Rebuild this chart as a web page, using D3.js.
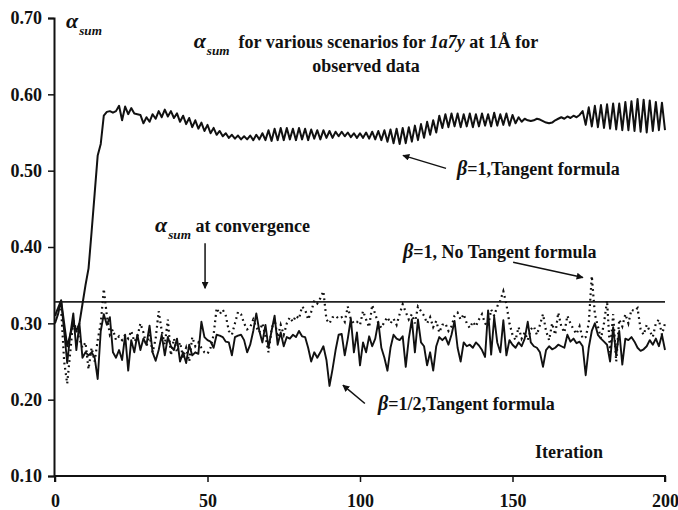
<!DOCTYPE html>
<html>
<head>
<meta charset="utf-8">
<script src="https://cdn.jsdelivr.net/npm/d3@7/dist/d3.min.js"></script>
<style>
  html, body { margin: 0; padding: 0; background: #fff; }
  svg { display: block; font-family: "Liberation Serif", "Times New Roman", serif; font-weight: bold; }
</style>
</head>
<body>
<div id="chart"></div>
<script>
// iteration axis
const xTicks = [0, 50, 100, 150, 200];
const yTicks = [0.10, 0.20, 0.30, 0.40, 0.50, 0.60, 0.70];

// alpha_sum at convergence
const convergence = 0.328;

// beta = 1, tangent formula (iterations 0..200)
const tangentBeta1 = [
  0.310, 0.320, 0.330, 0.300, 0.270, 0.285, 0.300, 0.290, 0.300,
  0.325, 0.350, 0.372, 0.420, 0.470, 0.520, 0.535, 0.572,
  0.577, 0.578, 0.576, 0.578,
  0.585, 0.566, 0.584, 0.574, 0.582, 0.575, 0.574,
  0.573, 0.562, 0.570, 0.564, 0.574,
  0.568, 0.578, 0.570, 0.580, 0.571, 0.578, 0.569, 0.575,
  0.564, 0.572, 0.561, 0.569, 0.557, 0.566, 0.555, 0.563, 0.552, 0.560, 0.549, 0.556, 0.547, 0.552, 0.545,
  0.549, 0.543, 0.547, 0.542, 0.546, 0.541, 0.545, 0.541, 0.546, 0.540, 0.547, 0.541, 0.549,
  0.540, 0.553, 0.539, 0.555, 0.540, 0.556, 0.540, 0.556, 0.541, 0.555, 0.540, 0.556,
  0.541, 0.555, 0.540, 0.554, 0.542, 0.553, 0.541, 0.553, 0.543, 0.552, 0.543, 0.551,
  0.545, 0.551, 0.545, 0.550, 0.544, 0.549, 0.543, 0.549, 0.543, 0.550, 0.542, 0.551, 0.541, 0.552, 0.540,
  0.553, 0.538, 0.554, 0.536, 0.555, 0.535, 0.556, 0.536, 0.557, 0.538, 0.559, 0.540, 0.561, 0.543, 0.564, 0.547, 0.566, 0.550,
  0.572, 0.556, 0.574, 0.557, 0.575, 0.558, 0.575, 0.557, 0.574, 0.558, 0.575, 0.557, 0.574,
  0.558, 0.575, 0.559, 0.574, 0.558, 0.576, 0.559, 0.574, 0.560, 0.575, 0.559, 0.573,
  0.562, 0.570, 0.564, 0.568, 0.566,
  0.565, 0.566, 0.568, 0.567, 0.565, 0.563, 0.562, 0.563, 0.566, 0.568,
  0.570, 0.568, 0.571, 0.569, 0.572, 0.570, 0.573,
  0.578, 0.560, 0.583, 0.558, 0.585, 0.557, 0.586, 0.556, 0.587, 0.555, 0.588, 0.554, 0.588, 0.553,
  0.590, 0.553, 0.591, 0.552, 0.594, 0.551, 0.593, 0.550, 0.592, 0.552, 0.590, 0.553, 0.589, 0.553
];

// beta = 1/2, tangent formula
const tangentBetaHalf = [
  0.300, 0.312, 0.330, 0.290, 0.248, 0.285, 0.313, 0.265, 0.300, 0.255,
  0.262, 0.258, 0.262, 0.255, 0.227, 0.290, 0.312, 0.298, 0.308, 0.262,
  0.255, 0.265, 0.252, 0.285, 0.238, 0.278, 0.262, 0.285, 0.265, 0.280,
  0.272, 0.297, 0.262, 0.251, 0.265, 0.285, 0.258, 0.282, 0.270, 0.265,
  0.280, 0.250, 0.262, 0.248, 0.272, 0.258, 0.262, 0.260, 0.302, 0.282,
  0.278, 0.276, 0.268, 0.285, 0.284, 0.282, 0.276, 0.275, 0.258, 0.282,
  0.284, 0.285, 0.278, 0.262, 0.272, 0.290, 0.313, 0.290, 0.275, 0.298,
  0.268, 0.290, 0.310, 0.272, 0.288, 0.270, 0.282, 0.280, 0.285, 0.282,
  0.290, 0.283, 0.282, 0.268, 0.250, 0.262, 0.255, 0.262, 0.270, 0.252,
  0.218, 0.240, 0.265, 0.285, 0.286, 0.258, 0.280, 0.306, 0.262, 0.288,
  0.245, 0.275, 0.262, 0.283, 0.270, 0.280, 0.302, 0.268, 0.255, 0.238,
  0.268, 0.285, 0.280, 0.278, 0.283, 0.243, 0.280, 0.305, 0.262, 0.305,
  0.275, 0.270, 0.245, 0.262, 0.238, 0.270, 0.282, 0.278, 0.282, 0.272,
  0.285, 0.303, 0.268, 0.250, 0.275, 0.270, 0.272, 0.268, 0.275, 0.271,
  0.265, 0.256, 0.317, 0.259, 0.308, 0.275, 0.262, 0.304, 0.258, 0.278,
  0.272, 0.268, 0.275, 0.270, 0.280, 0.302, 0.275, 0.270, 0.268, 0.262,
  0.243, 0.265, 0.270, 0.266, 0.268, 0.272, 0.270, 0.268, 0.285, 0.276,
  0.280, 0.274, 0.276, 0.270, 0.232, 0.268, 0.290, 0.300, 0.285, 0.280,
  0.276, 0.272, 0.250, 0.295, 0.258, 0.290, 0.246, 0.280, 0.278, 0.282,
  0.276, 0.268, 0.264, 0.266, 0.270, 0.278, 0.272, 0.280, 0.270, 0.285, 0.265
];

// beta = 1, no tangent formula
const noTangentBeta1 = [
  0.310, 0.318, 0.320, 0.250, 0.221, 0.262, 0.305, 0.290, 0.280, 0.268,
  0.275, 0.240, 0.268, 0.250, 0.278, 0.300, 0.345, 0.310, 0.285, 0.292,
  0.278, 0.283, 0.278, 0.285, 0.280, 0.290, 0.276, 0.282, 0.300, 0.288,
  0.270, 0.285, 0.262, 0.280, 0.316, 0.290, 0.272, 0.305, 0.258, 0.280,
  0.262, 0.275, 0.255, 0.268, 0.250, 0.282, 0.270, 0.275, 0.268, 0.262,
  0.260, 0.268, 0.285, 0.320, 0.312, 0.318, 0.310, 0.290, 0.285, 0.300,
  0.315, 0.312, 0.300, 0.292, 0.295, 0.305, 0.295, 0.288, 0.300, 0.283,
  0.262, 0.292, 0.305, 0.282, 0.298, 0.285, 0.300, 0.308, 0.302, 0.310,
  0.306, 0.322, 0.318, 0.305, 0.315, 0.330, 0.326, 0.333, 0.342, 0.305,
  0.300, 0.308, 0.310, 0.306, 0.308, 0.302, 0.322, 0.305, 0.300, 0.302,
  0.298, 0.316, 0.305, 0.295, 0.324, 0.312, 0.300, 0.294, 0.302, 0.308,
  0.300, 0.306, 0.298, 0.312, 0.325, 0.315, 0.305, 0.312, 0.300, 0.322,
  0.316, 0.310, 0.300, 0.308, 0.295, 0.303, 0.288, 0.298, 0.300, 0.290,
  0.296, 0.310, 0.314, 0.305, 0.312, 0.300, 0.294, 0.302, 0.296, 0.305,
  0.312, 0.300, 0.296, 0.318, 0.310, 0.322, 0.330, 0.342, 0.325, 0.300,
  0.285, 0.278, 0.295, 0.280, 0.288, 0.278, 0.292, 0.296, 0.285, 0.298,
  0.312, 0.290, 0.278, 0.300, 0.285, 0.314, 0.296, 0.288, 0.310, 0.300,
  0.292, 0.286, 0.296, 0.280, 0.282, 0.300, 0.362, 0.312, 0.296, 0.280,
  0.300, 0.330, 0.262, 0.312, 0.250, 0.305, 0.296, 0.312, 0.300, 0.318,
  0.316, 0.320, 0.292, 0.285, 0.298, 0.290, 0.282, 0.300, 0.305, 0.285, 0.300
];

const width = 678, height = 510;
const margin = { top: 18, right: 13, bottom: 34, left: 55 };
const innerW = width - margin.left - margin.right;
const innerH = height - margin.top - margin.bottom;
const fs = 18;

const svg = d3.select('#chart').append('svg')
  .attr('width', width).attr('height', height);

const x = d3.scaleLinear().domain([0, 200]).range([margin.left, margin.left + innerW]);
const y = d3.scaleLinear().domain([0.10, 0.70]).range([margin.top + innerH, margin.top]);

svg.append('defs').append('marker')
  .attr('id', 'head').attr('viewBox', '0 0 10 10')
  .attr('refX', 9).attr('refY', 5)
  .attr('markerWidth', 7).attr('markerHeight', 7)
  .attr('markerUnits', 'userSpaceOnUse')
  .attr('orient', 'auto')
  .append('path').attr('d', 'M0,0L10,5L0,10Z').attr('fill', '#111');

// axes
const xAxis = svg.append('g')
  .attr('transform', `translate(0,${y(0.10)})`)
  .call(d3.axisBottom(x).tickValues(xTicks).tickSize(6).tickPadding(12).tickFormat(d3.format('d')));
const yAxis = svg.append('g')
  .attr('transform', `translate(${x(0) - 1},0)`)
  .call(d3.axisLeft(y).tickValues(yTicks).tickSize(6).tickPadding(6).tickFormat(d3.format('.2f')));

[xAxis, yAxis].forEach(g => {
  g.select('.domain').attr('stroke', '#111').attr('stroke-width', 2);
  g.selectAll('.tick line').attr('stroke', '#111').attr('stroke-width', 1.5);
  g.selectAll('.tick text')
    .attr('fill', '#111')
    .style('font-family', '"Liberation Serif", serif')
    .style('font-weight', 'bold')
    .style('font-size', fs + 'px');
});
xAxis.select('.domain').attr('d', `M${x(0)},6V0H${x(200)}V6`);

const line = d3.line().x((d, i) => x(i)).y(d => y(d));

// convergence level
svg.append('line')
  .attr('x1', x(0)).attr('x2', x(200))
  .attr('y1', y(convergence)).attr('y2', y(convergence))
  .attr('stroke', '#222').attr('stroke-width', 1.8);

svg.append('path').datum(noTangentBeta1)
  .attr('d', line).attr('fill', 'none')
  .attr('stroke', '#111').attr('stroke-width', 2.2)
  .attr('stroke-dasharray', '1.8,3.6');

svg.append('path').datum(tangentBetaHalf)
  .attr('d', line).attr('fill', 'none')
  .attr('stroke', '#111').attr('stroke-width', 1.9)
  .attr('stroke-linejoin', 'round');

svg.append('path').datum(tangentBeta1)
  .attr('d', line).attr('fill', 'none')
  .attr('stroke', '#111').attr('stroke-width', 2)
  .attr('stroke-linejoin', 'round');

// text helpers
function alphaSum(sel, size) {
  sel.append('tspan').attr('font-style', 'italic').attr('font-size', size).text('α');
  sel.append('tspan').attr('font-style', 'italic').attr('font-size', size * 0.6)
    .attr('dy', size * 0.3).attr('dx', 1).text('sum');
  sel.append('tspan').attr('dy', -size * 0.3).text('\u00a0');
}

// y label
const yl = svg.append('text').attr('x', 66).attr('y', 28).attr('fill', '#111').attr('font-size', fs);
alphaSum(yl, 22);

// title
const t1 = svg.append('text').attr('x', 366).attr('y', 48).attr('text-anchor', 'middle')
  .attr('font-size', fs).attr('fill', '#111');
alphaSum(t1, 22);
t1.append('tspan').text(' for various scenarios for ');
t1.append('tspan').attr('font-style', 'italic').text('1a7y');
t1.append('tspan').text(' at 1Å for');
svg.append('text').attr('x', 366).attr('y', 72).attr('text-anchor', 'middle')
  .attr('font-size', fs).attr('fill', '#111').text('observed data');

// annotations (data coordinates)
function arrow(x1, y1, x2, y2) {
  svg.append('line')
    .attr('x1', x(x1)).attr('y1', y(y1)).attr('x2', x(x2)).attr('y2', y(y2))
    .attr('stroke', '#111').attr('stroke-width', 1.5)
    .attr('marker-end', 'url(#head)');
}

function betaLabel(ix, v, rest) {
  const t = svg.append('text').attr('x', x(ix)).attr('y', y(v))
    .attr('font-size', fs).attr('fill', '#111');
  t.append('tspan').attr('font-style', 'italic').attr('font-size', 20).text('β');
  t.append('tspan').text(rest);
}

betaLabel(131.8, 0.494, '=1,Tangent formula');
arrow(128.2, 0.503, 114.1, 0.520);

const conv = svg.append('text').attr('x', x(32.8)).attr('y', y(0.419))
  .attr('font-size', fs).attr('fill', '#111');
alphaSum(conv, 22);
conv.append('tspan').text('at convergence');
arrow(49.2, 0.405, 49.2, 0.346);

betaLabel(114.1, 0.385, '=1, No Tangent formula');
arrow(150.2, 0.380, 173.1, 0.360);

betaLabel(105.9, 0.186, '=1/2,Tangent formula');
arrow(101.6, 0.195, 94.4, 0.219);

svg.append('text').attr('x', x(157.4)).attr('y', y(0.123))
  .attr('font-size', fs).attr('fill', '#111').text('Iteration');
</script>
</body>
</html>
